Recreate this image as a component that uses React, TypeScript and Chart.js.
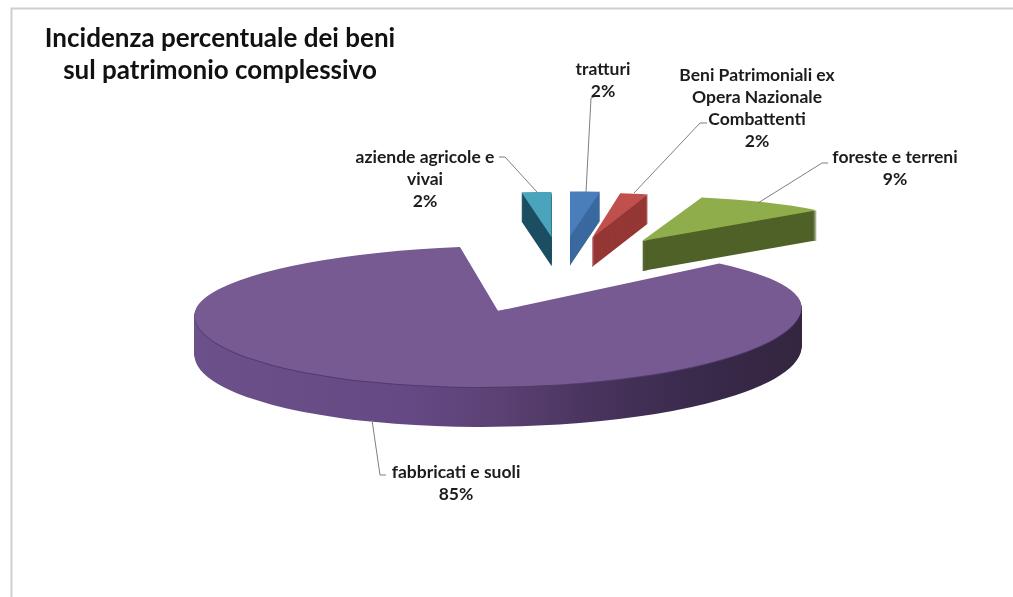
import React, { useEffect, useRef } from "react";
import { Chart, registerables } from "chart.js";

Chart.register(...registerables);

const categories = [
  "aziende agricole e vivai",
  "tratturi",
  "Beni Patrimoniali ex Opera Nazionale Combattenti",
  "foreste e terreni",
  "fabbricati e suoli",
];
const percentValues = [2, 2, 2, 9, 85];
const titleLines = ["Incidenza percentuale dei beni", "sul patrimonio complessivo"];
const labelLines = [
  ["aziende agricole e", "vivai"],
  ["tratturi"],
  ["Beni Patrimoniali ex", "Opera Nazionale", "Combattenti"],
  ["foreste e terreni"],
  ["fabbricati e suoli"],
];
const topColors = ["#4aa5bc", "#4a7ebb", "#c0504d", "#8fae4b", "#775a92"];
const wallColors = ["#1d4f63", "#3b6a9f", "#953735", "#4f6228", "#5c4175"];

// Layout of the exploded 3D look: screen anchor, projection scale and wall depth per slice.
const SMALL = { rx: 240, ryUp: 45, ryDown: 45, depth: 29, shear: 0 };
const sliceLayout = [
  { ax: 551.5, ay: 237, ...SMALL },
  { ax: 570, ay: 236.5, ...SMALL },
  { ax: 592, ay: 238, ...SMALL, rx: 225 },
  { ax: 642, ay: 241, ...SMALL, depth: 30 },
  { ax: 498, ay: 311, rx: 303.5, ryUp: 65, ryDown: 76, depth: 40, shear: -8 / 607 },
];
// Label text centres and their leader lines.
const labelLayout = [
  { cx: 425, y: 157, leader: [[499, 157], [505, 157], [537, 192]] },
  { cx: 603, y: 69, leader: [[594, 97], [591, 98], [586, 192]] },
  { cx: 757, y: 75, leader: [[707, 123], [700, 123], [634, 193]] },
  { cx: 895, y: 157, leader: [[828, 163], [822, 163], [758, 203]] },
  { cx: 456, y: 472, leader: [[372, 420], [380, 475], [386, 475]] },
];
const purpleWallStops: [number, string][] = [
  [0, "#6c5089"],
  [0.35, "#654984"],
  [0.5, "#5c4175"],
  [0.65, "#49345e"],
  [0.82, "#3a2a4c"],
  [1, "#34253f"],
];
const TEXT = "#1c1c1c";
const FONT = "Lato, 'Open Sans', sans-serif";

const pie3d = {
  id: "pie3d",
  beforeDatasetsDraw(chart: any) {
    const ctx: CanvasRenderingContext2D = chart.ctx;
    const arcs = chart.getDatasetMeta(0).data;
    arcs.forEach((arc: any, i: number) => {
      const p = sliceLayout[i];
      const R = arc.outerRadius;
      const base = arc.options;
      const paint = (dy: number, fill: any) => {
        const overlap = 6;
        [
          [p.ryDown, 1],
          [p.ryUp, -1],
        ].forEach(([ry, side]) => {
          ctx.save();
          ctx.translate(p.ax, p.ay + dy);
          ctx.transform(p.rx / R, (p.shear * p.rx) / R, 0, ry / R, 0, 0);
          ctx.translate(-arc.x, -arc.y);
          ctx.beginPath();
          if (side < 0) ctx.rect(arc.x - 2 * R, arc.y - 2 * R, 4 * R, 2 * R + overlap);
          else ctx.rect(arc.x - 2 * R, arc.y - overlap, 4 * R, 2 * R + overlap);
          ctx.clip();
          arc.options = { ...base, backgroundColor: fill, borderWidth: 0 };
          arc.draw(ctx);
          ctx.restore();
        });
      };
      let wall: any = wallColors[i];
      if (i === 4) {
        const g = ctx.createLinearGradient(arc.x - R, 0, arc.x + R, 0);
        purpleWallStops.forEach(([s, c]) => g.addColorStop(s, c));
        wall = g;
      }
      for (let d = p.depth; d >= 1; d--) paint(d, wall);
      if (i === 4) paint(1, "#503b69");
      paint(0, topColors[i]);
      arc.options = base;
    });
    return false;
  },
  afterDraw(chart: any) {
    const ctx: CanvasRenderingContext2D = chart.ctx;
    ctx.save();
    // frame
    ctx.strokeStyle = "#cfcfcf";
    ctx.lineWidth = 2;
    ctx.beginPath();
    ctx.moveTo(11.5, 597);
    ctx.lineTo(11.5, 8.5);
    ctx.lineTo(1013, 8.5);
    ctx.stroke();
    // title
    ctx.fillStyle = "#111";
    ctx.textAlign = "center";
    ctx.textBaseline = "middle";
    ctx.font = `bold 26px ${FONT}`;
    titleLines.forEach((t, i) => ctx.fillText(t, 220, 39 + i * 32));
    // labels
    labelLayout.forEach((l, i) => {
      ctx.strokeStyle = "#7f7f7f";
      ctx.lineWidth = 1;
      ctx.beginPath();
      l.leader.forEach(([x, y], k) => (k ? ctx.lineTo(x, y) : ctx.moveTo(x, y)));
      ctx.stroke();
      ctx.fillStyle = TEXT;
      ctx.font = `bold 17.5px ${FONT}`;
      const lines = [...labelLines[i], `${percentValues[i]}%`];
      lines.forEach((t, k) => ctx.fillText(t, l.cx, l.y + k * 22));
    });
    ctx.restore();
  },
};

export default function App() {
  const ref = useRef<HTMLCanvasElement>(null);
  useEffect(() => {
    const chart = new Chart(ref.current!, {
      type: "pie",
      data: {
        labels: categories,
        datasets: [{ data: percentValues, backgroundColor: topColors, borderWidth: 0 }],
      },
      options: {
        animation: false,
        responsive: false,
        rotation: -7.2,
        plugins: { legend: { display: false }, tooltip: { enabled: false } },
      },
      plugins: [pie3d],
    } as any);
    return () => chart.destroy();
  }, []);
  return (
    <div style={{ position: "fixed", left: 0, top: 0, width: 1013, height: 597, background: "#fff" }}>
      <canvas ref={ref} width={1013} height={597} style={{ display: "block" }} />
    </div>
  );
}
